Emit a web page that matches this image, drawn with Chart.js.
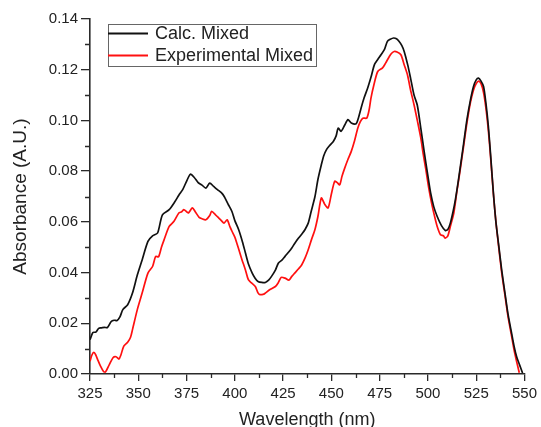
<!DOCTYPE html>
<html>
<head>
<meta charset="utf-8">
<script src="https://cdn.jsdelivr.net/npm/chart.js@4/dist/chart.umd.min.js"></script>
<style>
  html, body { margin: 0; padding: 0; background: #ffffff; }
  #wrap { width: 541px; height: 427px; position: relative; }
</style>
</head>
<body>
<div id="wrap"><canvas id="c" width="541" height="427"></canvas></div>
<script>
// ---- Data ----
const seriesLabels = ["Calc. Mixed", "Experimental Mixed"];
const calcWavelength = [325,326.5,328,329.5,331,332.5,334,336,337.5,339,340.5,342,344.5,347,349.5,352,355,357.4,360,362.5,366,369,371,373,375,377,379,381,383,385,387,389,391,393,394.5,396.5,398.5,400,402,404,405.5,407,409,410.5,412,414,415.8,417.5,419,421,422.6,424.5,426,428,429.5,431,433,435,436.3,438,439.5,441.5,443,444.8,446,447.4,449,451,452.5,453.5,455,457,458.6,460.3,462.8,464,465.4,467,468.8,470.5,472.3,474,475.7,477.5,479,480.5,482.2,483.7,485,486.5,487.7,489.5,491,492.8,494.5,496.3,498,500,501.4,503,504.8,507,509,510.3,511.6,513,514.2,515.5,516.8,518.5,520.2,522,523.6,525,526.2,527.5,528.8,530,531.3,532.6,533.9,535.2,536.5,538.2,539.9,541.5,543.3,544.6,545.9,547.5,549];
const calcAbsorbance = [0.0135,0.0164,0.0165,0.018,0.0182,0.0184,0.0183,0.0207,0.0212,0.0211,0.0225,0.0254,0.0273,0.0319,0.039,0.045,0.0523,0.0545,0.0556,0.0628,0.0648,0.068,0.0705,0.0727,0.076,0.0788,0.0775,0.0755,0.0745,0.0733,0.0753,0.074,0.0727,0.0715,0.07,0.067,0.0641,0.0605,0.0569,0.052,0.0477,0.0435,0.0398,0.0378,0.0365,0.0361,0.0361,0.037,0.0385,0.041,0.0438,0.045,0.0464,0.0482,0.0497,0.0515,0.0536,0.0555,0.0569,0.0595,0.064,0.07,0.0766,0.0825,0.086,0.0884,0.09,0.0917,0.094,0.097,0.0957,0.0983,0.1003,0.099,0.0987,0.101,0.1049,0.109,0.1128,0.117,0.122,0.124,0.1259,0.128,0.1312,0.132,0.1325,0.1322,0.1312,0.1295,0.1272,0.122,0.1167,0.11,0.106,0.097,0.088,0.078,0.0714,0.066,0.0621,0.0585,0.0566,0.057,0.0595,0.064,0.0687,0.075,0.0819,0.091,0.1003,0.108,0.1134,0.116,0.1167,0.1155,0.1134,0.107,0.0976,0.085,0.0714,0.06,0.0517,0.041,0.0319,0.0235,0.0162,0.011,0.0069,0.0035,0.0004];
const expWavelength = [325,326,327,328,329,330.5,332,333,335,337,338.5,340,341,342.5,344.5,346,347,349.5,352,355,357.4,359,360.5,362,363.4,366,368.5,371,372.5,373.6,375,376,378,379.5,381.5,383,385,387,388,390,391.7,393,394.4,396,397.5,398.6,400,401,402.5,403.7,405.5,407,408.5,410.6,412,413,415,415.8,418,421,422.5,424,426,428,429.5,431,433,434.6,436.5,438,439.7,441.5,443,444.8,446.5,448.3,450,451.7,453,454.3,455.5,456.9,458.5,460.3,462,463.7,465,466.3,468.3,469.5,470.5,472,474,476.5,478,480,481.2,482.5,484,486,487.7,489.4,491,492.8,494.5,496.3,497.5,498.8,500.5,502,503.5,504.8,506.5,508,509,510.3,511.6,513.4,515,516.8,518.5,520.2,522,523.6,525,526.2,527.5,528.8,530,531.3,532.6,533.9,535.2,536.5,538.2,539.9,541.5,543.3,544.6,545.9,547.3];
const expAbsorbance = [0.005,0.0075,0.0085,0.0075,0.0056,0.003,0.001,0.0008,0.0037,0.0065,0.0068,0.0059,0.0075,0.011,0.0125,0.0145,0.0175,0.0254,0.0319,0.0398,0.0424,0.0464,0.0462,0.05,0.053,0.0582,0.0602,0.0635,0.064,0.0648,0.064,0.0635,0.0655,0.064,0.0618,0.0612,0.0608,0.0625,0.0641,0.0628,0.0615,0.0605,0.0595,0.0608,0.058,0.0562,0.054,0.0517,0.048,0.0451,0.041,0.0372,0.036,0.0345,0.032,0.0313,0.0315,0.0319,0.0332,0.0345,0.036,0.0381,0.0378,0.037,0.0385,0.0398,0.0415,0.043,0.046,0.049,0.053,0.057,0.062,0.0694,0.067,0.0655,0.071,0.076,0.0755,0.0746,0.078,0.0812,0.0845,0.0878,0.092,0.097,0.0995,0.1009,0.1009,0.104,0.1088,0.114,0.1193,0.1207,0.1225,0.1252,0.1265,0.1272,0.127,0.1259,0.122,0.118,0.112,0.1062,0.1,0.0931,0.087,0.0812,0.073,0.067,0.062,0.0582,0.0549,0.0545,0.0536,0.0545,0.0582,0.0635,0.072,0.081,0.09,0.099,0.107,0.112,0.1145,0.1155,0.1145,0.111,0.105,0.096,0.084,0.071,0.06,0.051,0.04,0.031,0.0225,0.015,0.0095,0.005,0.0005];
const xTickValues = [325,350,375,400,425,450,475,500,525,550];
const yTickValues = [0.00,0.02,0.04,0.06,0.08,0.10,0.12,0.14];
const xTitle = "Wavelength (nm)";
const yTitle = "Absorbance (A.U.)";

const FONT = "'Liberation Sans', Arial, sans-serif";
const AXIS_COLOR = '#2a2a2a';
const TEXT_COLOR = '#222222';

function toPoints(xs, ys) { return xs.map((x, i) => ({ x: x, y: ys[i] })); }

const minorTicks = {
  id: 'minorTicks',
  afterDraw(chart) {
    const ctx = chart.ctx, xs = chart.scales.x, ys = chart.scales.y;
    ctx.save();
    ctx.strokeStyle = AXIS_COLOR;
    ctx.lineWidth = 1.3;
    ctx.beginPath();
    for (let i = 0; i < xTickValues.length - 1; i++) {
      const v = (xTickValues[i] + xTickValues[i + 1]) / 2;
      const px = Math.round(xs.getPixelForValue(v)) + 0.5;
      ctx.moveTo(px, ys.bottom);
      ctx.lineTo(px, ys.bottom + 4);
    }
    for (let i = 0; i < yTickValues.length - 1; i++) {
      const v = (yTickValues[i] + yTickValues[i + 1]) / 2;
      const py = Math.round(ys.getPixelForValue(v)) + 0.5;
      ctx.moveTo(xs.left, py);
      ctx.lineTo(xs.left - 5, py);
    }
    ctx.stroke();
    ctx.restore();
  }
};

const boxLegend = {
  id: 'boxLegend',
  afterDraw(chart) {
    const ctx = chart.ctx, area = chart.chartArea;
    const left = area.left + 18, top = area.top + 5, w = 208, h = 42;
    ctx.save();
    ctx.strokeStyle = '#666';
    ctx.lineWidth = 1;
    ctx.strokeRect(Math.round(left) + 0.5, Math.round(top) + 0.5, w, h);
    ctx.font = "18px " + FONT;
    ctx.textBaseline = 'middle';
    ctx.textAlign = 'left';
    chart.data.datasets.forEach((ds, i) => {
      const y = top + 9.5 + i * 22;
      ctx.strokeStyle = ds.borderColor;
      ctx.lineWidth = 2;
      ctx.beginPath();
      ctx.moveTo(left, y);
      ctx.lineTo(left + 40, y);
      ctx.stroke();
      ctx.fillStyle = TEXT_COLOR;
      ctx.fillText(ds.label, left + 47, y + 0.5);
    });
    ctx.restore();
  }
};

new Chart(document.getElementById('c'), {
  type: 'line',
  data: {
    datasets: [
      { label: seriesLabels[0], data: toPoints(calcWavelength, calcAbsorbance), borderColor: '#111111', backgroundColor: '#111111', borderWidth: 1.7, pointRadius: 0, tension: 0.25, fill: false },
      { label: seriesLabels[1], data: toPoints(expWavelength, expAbsorbance), borderColor: '#ff1010', backgroundColor: '#ff1010', borderWidth: 1.7, pointRadius: 0, tension: 0.25, fill: false }
    ]
  },
  options: {
    responsive: false,
    animation: false,
    devicePixelRatio: 1,
    layout: { padding: { left: 0, right: 13, top: 19, bottom: 0 } },
    plugins: { legend: { display: false }, tooltip: { enabled: false } },
    scales: {
      x: {
        type: 'linear',
        min: xTickValues[0],
        max: xTickValues[xTickValues.length - 1],
        afterBuildTicks(scale) { scale.ticks = xTickValues.map(v => ({ value: v })); },
        afterFit(scale) { scale.height = 53; },
        grid: { drawOnChartArea: false, drawTicks: true, tickLength: 7, color: AXIS_COLOR, lineWidth: 1.3 },
        border: { display: true, color: AXIS_COLOR, width: 1.6 },
        ticks: { color: TEXT_COLOR, font: { family: FONT, size: 15 }, padding: 4, maxRotation: 0, autoSkip: false, callback: v => String(v) },
        title: { display: true, text: xTitle, color: TEXT_COLOR, font: { family: FONT, size: 18, lineHeight: 1 }, padding: { top: 0, bottom: -2 } }
      },
      y: {
        type: 'linear',
        min: yTickValues[0],
        max: yTickValues[yTickValues.length - 1],
        afterBuildTicks(scale) { scale.ticks = yTickValues.map(v => ({ value: v })); },
        afterFit(scale) { scale.width = 90; },
        grid: { drawOnChartArea: false, drawTicks: true, tickLength: 9, color: AXIS_COLOR, lineWidth: 1.3 },
        border: { display: true, color: AXIS_COLOR, width: 1.6 },
        ticks: { color: TEXT_COLOR, font: { family: FONT, size: 15 }, padding: 3, autoSkip: false, callback: v => Number(v).toFixed(2) },
        title: { display: true, text: yTitle, color: TEXT_COLOR, font: { family: FONT, size: 19, lineHeight: 1 }, padding: { top: 11.5, bottom: 0 } }
      }
    }
  },
  plugins: [minorTicks, boxLegend]
});
</script>
</body>
</html>
